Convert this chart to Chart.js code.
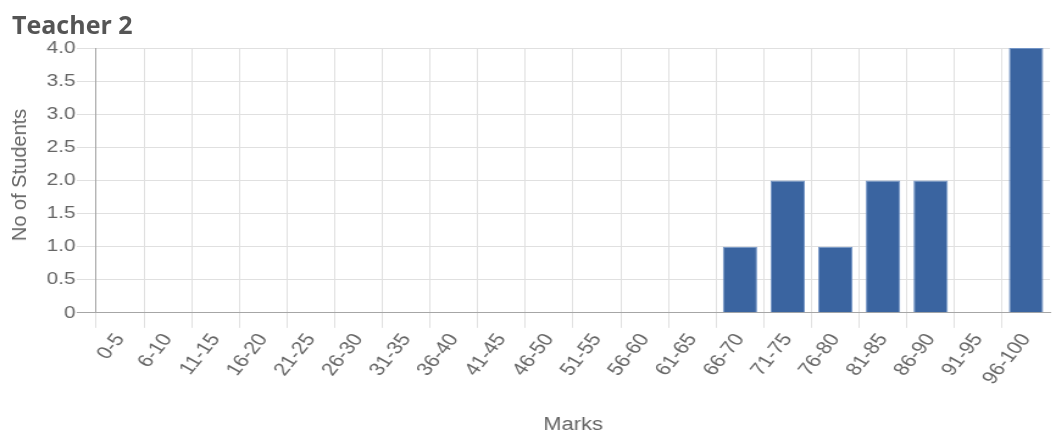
<!DOCTYPE html>
<html>
<head>
<meta charset="utf-8">
<script src="https://cdn.jsdelivr.net/npm/chart.js@4/dist/chart.umd.min.js"></script>
<style>
html,body{margin:0;padding:0;background:#fff;overflow:hidden;}
#wrap{width:1056px;height:436px;position:relative;overflow:hidden;}
#c{position:absolute;left:0;top:0;transform-origin:0 0;}
#title{position:absolute;left:12px;top:12px;font-family:"Open Sans",sans-serif;font-weight:700;font-size:25px;line-height:1;color:#555;white-space:nowrap;}
#ytitle{position:absolute;left:18.5px;top:175px;transform:translate(-50%,-50%) rotate(-90deg);font-family:"Liberation Sans",Arial,sans-serif;font-size:20px;line-height:1;color:#666;white-space:nowrap;}
</style>
</head>
<body>
<div id="wrap">
  <canvas id="c" width="866" height="436"></canvas>
  <div id="title"></div>
  <div id="ytitle"></div>
</div>
<script>
const chartTitle = 'Teacher 2';
const categories = ['0-5','6-10','11-15','16-20','21-25','26-30','31-35','36-40','41-45','46-50','51-55','56-60','61-65','66-70','71-75','76-80','81-85','86-90','91-95','96-100'];
const students = [0,0,0,0,0,0,0,0,0,0,0,0,0,1,2,1,2,2,0,4];
const yTickLabels = ['0','0.5','1.0','1.5','2.0','2.5','3.0','3.5','4.0'];
const xTitle = 'Marks';
const yTitle = 'No of Students';

document.getElementById('title').textContent = chartTitle;
document.getElementById('ytitle').textContent = yTitle;

const canvas = document.getElementById('c');
canvas.style.width = canvas.width + 'px';
canvas.style.height = canvas.height + 'px';
canvas.style.transform = 'scaleX(' + (1056 / canvas.width) + ')';

Chart.defaults.font.family = '"Liberation Sans", Arial, sans-serif';
Chart.defaults.font.size = 17;
Chart.defaults.color = '#666';

new Chart(canvas, {
  type: 'bar',
  data: {
    labels: categories,
    datasets: [{
      data: students,
      backgroundColor: '#3a64a0',
      borderColor: '#7294c6',
      borderWidth: 1
    }]
  },
  options: {
    responsive: false,
    animation: false,
    devicePixelRatio: 1,
    layout: { padding: { left: 37.3, right: 5, top: 48, bottom: 0 } },
    plugins: {
      legend: { display: false },
      tooltip: { enabled: false },
      title: { display: false }
    },
    scales: {
      x: {
        grid: {
          color: function(ctx){ return ctx.tick ? '#e0e0e0' : 'rgba(0,0,0,0)'; },
          tickLength: 15,
          offset: true
        },
        border: { color: '#a6a6a6' },
        ticks: { maxRotation: 56, minRotation: 56, padding: 2, autoSkip: false, font: { size: 18 } },
        title: { display: true, text: xTitle, font: { size: 18 }, padding: { top: 24, bottom: 0 } }
      },
      y: {
        min: 0, max: 4,
        grid: {
          color: function(ctx){ return ctx.tick && ctx.tick.value === 0 ? '#a6a6a6' : '#e0e0e0'; },
          tickLength: 16
        },
        border: { color: '#a6a6a6' },
        ticks: {
          stepSize: 0.5,
          padding: 1,
          callback: function(v, i){ return yTickLabels[i]; }
        },
        title: { display: false }
      }
    }
  }
});
</script>
</body>
</html>
